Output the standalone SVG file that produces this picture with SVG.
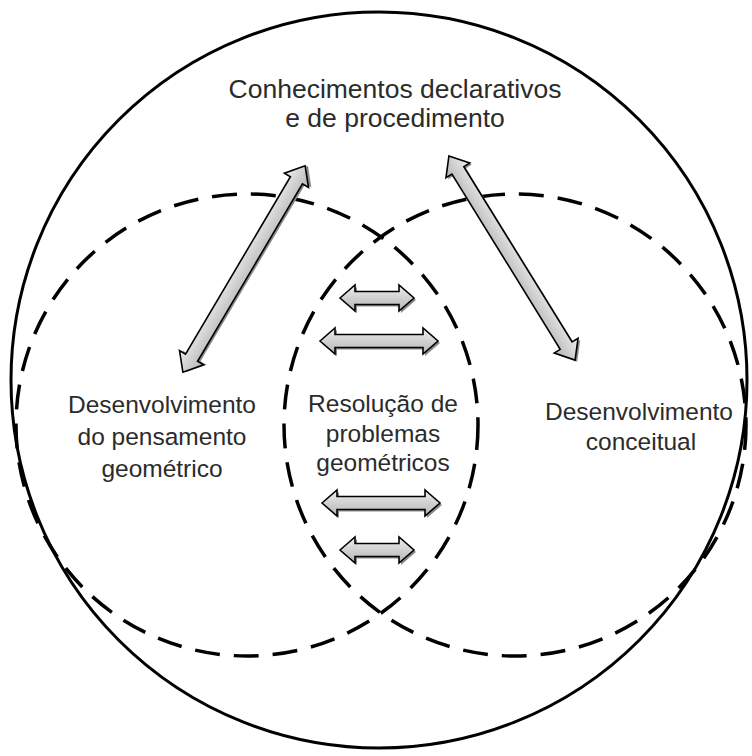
<svg xmlns="http://www.w3.org/2000/svg" width="752" height="756" viewBox="0 0 752 756">
<style>
.outer{fill:none;stroke:#000;stroke-width:3}
.dash{fill:none;stroke:#000;stroke-width:3.5;stroke-dasharray:25 14}
.lbl{font-family:"Liberation Sans",Arial,sans-serif;font-size:24.5px;fill:#2b2b2b;text-anchor:middle}
.ttl{font-size:26.5px}
.arr{fill:url(#g);stroke:#000;stroke-width:1.6;stroke-linejoin:miter}
.shd{fill:#8a8a8a;stroke:none}
</style>
<defs>
<linearGradient id="g" x1="0" y1="0" x2="0" y2="1">
<stop offset="0" stop-color="#eeeeee"/>
<stop offset="1" stop-color="#b4b4b4"/>
</linearGradient>
<path id="hs" d="M-37,0 L-22,-13 L-22,-6.5 L22,-6.5 L22,-13 L37,0 L22,13 L22,6.5 L-22,6.5 L-22,13 Z"/>
<path id="hl" d="M-59,0 L-44,-13 L-44,-6.5 L44,-6.5 L44,-13 L59,0 L44,13 L44,6.5 L-44,6.5 L-44,13 Z"/>
<path id="dg" d="M-120,0 L-103,-14 L-103,-7 L103,-7 L103,-14 L120,0 L103,14 L103,7 L-103,7 L-103,14 Z"/>
</defs>
<g id="circles">
<circle class="outer" cx="379" cy="380" r="368"/>
<circle class="dash" cx="247" cy="425" r="231"/>
<circle class="dash" cx="515" cy="425" r="231"/>
</g>
<g id="connectors">
<g transform="translate(244,269) rotate(-59.4)"><use href="#dg" class="shd" transform="translate(1.5,2.5)"/><use href="#dg" class="arr"/></g>
<g transform="translate(512,258) rotate(58.3)"><use href="#dg" class="shd" transform="translate(2.5,-1)"/><use href="#dg" class="arr"/></g>
<g transform="translate(377,298)"><use href="#hs" class="shd" transform="translate(2,2)"/><use href="#hs" class="arr"/></g>
<g transform="translate(379,341)"><use href="#hl" class="shd" transform="translate(2,2)"/><use href="#hl" class="arr"/></g>
<g transform="translate(381,503)"><use href="#hl" class="shd" transform="translate(2,2)"/><use href="#hl" class="arr"/></g>
<g transform="translate(377,550)"><use href="#hs" class="shd" transform="translate(2,2)"/><use href="#hs" class="arr"/></g>
</g>
<g id="n-conhecimentos">
<text class="lbl ttl" x="395" y="98">Conhecimentos declarativos</text>
<text class="lbl ttl" x="395" y="127">e de procedimento</text>
</g>
<g id="n-pensamento">
<text class="lbl" x="162" y="413">Desenvolvimento</text>
<text class="lbl" x="162" y="445">do pensamento</text>
<text class="lbl" x="162" y="477">geométrico</text>
</g>
<g id="n-resolucao">
<text class="lbl" x="383" y="412">Resolução de</text>
<text class="lbl" x="383" y="442">problemas</text>
<text class="lbl" x="383" y="471">geométricos</text>
</g>
<g id="n-conceitual">
<text class="lbl" x="639" y="420">Desenvolvimento</text>
<text class="lbl" x="641" y="450">conceitual</text>
</g>
</svg>
